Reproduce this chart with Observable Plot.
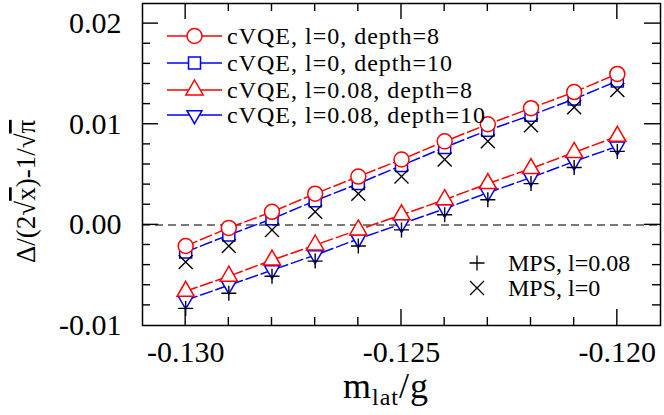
<!DOCTYPE html>
<html>
<head>
<meta charset="utf-8">
<script src="https://cdn.jsdelivr.net/npm/d3@7"></script>
<script src="https://cdn.jsdelivr.net/npm/@observablehq/plot@0.6"></script>
<style>
  html, body { margin: 0; padding: 0; background: white; }
  #chart { width: 664px; height: 415px; }
</style>
</head>
<body>
<div id="chart"></div>
<script>
// ---- data ----
const mLat = [-0.130, -0.129, -0.128, -0.127, -0.126, -0.125, -0.124, -0.123, -0.122, -0.121, -0.120];
const cvqeL0D8   = [-0.0021, -0.0003, 0.0013, 0.0031, 0.0048, 0.0065, 0.0083, 0.0100, 0.0116, 0.0132, 0.0150];
const cvqeL0D10  = [-0.0027, -0.0010, 0.0006, 0.0024, 0.0041, 0.0059, 0.0077, 0.0094, 0.0109, 0.0125, 0.0143];
const cvqeL8D8   = [-0.0066, -0.0051, -0.0035, -0.0020, -0.0005, 0.0010, 0.0025, 0.0041, 0.0056, 0.0072, 0.0088];
const cvqeL8D10  = [-0.0075, -0.0060, -0.0045, -0.0030, -0.0014, 0.0001, 0.0016, 0.0032, 0.0047, 0.0063, 0.0078];
const mpsL8      = [-0.0083, -0.0068, -0.0051, -0.0036, -0.0021, -0.0005, 0.0010, 0.0025, 0.0041, 0.0057, 0.0073];
const mpsL0      = [-0.0037, -0.0021, -0.0005, 0.0013, 0.0031, 0.0048, 0.0065, 0.0083, 0.0099, 0.0117, 0.0134];

const xTicks = [-0.130, -0.125, -0.120];
const yTicks = [-0.01, 0.00, 0.01, 0.02];
const xDomain = [-0.131, -0.119];
const yDomain = [-0.010, 0.022];

const legendTop = ["cVQE, l=0, depth=8", "cVQE, l=0, depth=10", "cVQE, l=0.08, depth=8", "cVQE, l=0.08, depth=10"];
const legendMps = ["MPS, l=0.08", "MPS, l=0"];

// ---- helpers ----
const rows = arr => mLat.map((x, i) => ({x, y: arr[i]}));
const rad = size => Math.sqrt(size / Math.PI);
const symSquare = {draw(c, s) { const r = rad(s); c.rect(-r, -r, 2 * r, 2 * r); }};
const symUp = {draw(c, s) { const r = rad(s), h = 2 * r, w = 2.3 * r;
  c.moveTo(0, -2 * h / 3); c.lineTo(w / 2, h / 3); c.lineTo(-w / 2, h / 3); c.closePath(); }};
const symDown = {draw(c, s) { const r = rad(s), h = 2 * r, w = 2.3 * r;
  c.moveTo(0, 2 * h / 3); c.lineTo(w / 2, -h / 3); c.lineTo(-w / 2, -h / 3); c.closePath(); }};
const symPlus = {draw(c, s) { const r = rad(s); c.moveTo(-r, 0); c.lineTo(r, 0); c.moveTo(0, -r); c.lineTo(0, r); }};
const symTimes = {draw(c, s) { const r = rad(s); c.moveTo(-r, -r); c.lineTo(r, r); c.moveTo(-r, r); c.lineTo(r, -r); }};
const symCircle = {draw(c, s) { const r = rad(s); c.moveTo(r, 0); c.arc(0, 0, r, 0, 2 * Math.PI); }};

const RED = "#ff0000", BLUE = "#0000ff";
const dash = "12,4";
const M = {left: 142, right: 4, top: 3, bottom: 90};
const W = 664, H = 415;
const FONT = "'Liberation Serif', 'Times New Roman', serif";

const plot = Plot.plot({
  width: W, height: H,
  marginLeft: M.left, marginRight: M.right, marginTop: M.top, marginBottom: M.bottom,
  style: {fontFamily: FONT, fontSize: "30px", background: "white", color: "black"},
  x: {domain: xDomain},
  y: {domain: yDomain},
  marks: [
    Plot.ruleY([0], {stroke: "#7a7a7a", strokeWidth: 2, strokeDasharray: "8,5"}),
    Plot.axisX({ticks: xTicks, tickSize: 0, tickPadding: 15, tickFormat: d => d.toFixed(3), fontSize: 30, label: null}),
    Plot.axisY({ticks: yTicks, tickSize: 0, tickPadding: 21, tickFormat: d => d.toFixed(2), fontSize: 30, label: null}),
    Plot.line(rows(cvqeL0D10), {x: "x", y: "y", stroke: BLUE, strokeWidth: 1.5, strokeDasharray: dash}),
    Plot.line(rows(cvqeL0D8), {x: "x", y: "y", stroke: RED, strokeWidth: 1.5, strokeDasharray: dash}),
    Plot.line(rows(cvqeL8D10), {x: "x", y: "y", stroke: BLUE, strokeWidth: 1.5, strokeDasharray: dash}),
    Plot.line(rows(cvqeL8D8), {x: "x", y: "y", stroke: RED, strokeWidth: 1.5, strokeDasharray: dash}),
    Plot.dot(rows(cvqeL0D10), {x: "x", y: "y", symbol: symSquare, r: 6, stroke: BLUE, fill: "white", strokeWidth: 1.5}),
    Plot.dot(rows(cvqeL0D8), {x: "x", y: "y", symbol: symCircle, r: 7.5, stroke: RED, fill: "white", strokeWidth: 1.5}),
    Plot.dot(rows(cvqeL8D10), {x: "x", y: "y", symbol: symDown, r: 6.5, stroke: BLUE, fill: "white", strokeWidth: 1.5}),
    Plot.dot(rows(cvqeL8D8), {x: "x", y: "y", symbol: symUp, r: 7.5, stroke: RED, fill: "white", strokeWidth: 1.5}),
    Plot.dot(rows(mpsL0), {x: "x", y: "y", symbol: symTimes, r: 7, stroke: "black", fill: "none", strokeWidth: 1.4}),
    Plot.dot(rows(mpsL8), {x: "x", y: "y", symbol: symPlus, r: 7.5, stroke: "black", fill: "none", strokeWidth: 1.4}),
    Plot.frame({stroke: "black", strokeWidth: 1.5})
  ]
});
document.getElementById("chart").appendChild(plot);

const svg = d3.select(plot);
// serif tick labels, like the reference
svg.selectAll("text").style("font-family", FONT).style("font-size", "30px").attr("fill", "black");

// ---- inward ticks on all four sides, through Plot's scales ----
const scaleFn = name => {
  const s = plot.scale(name);
  return s.apply ? (v => s.apply(v)) : d3.scaleLinear(s.domain, s.range);
};
const sx = scaleFn("x"), sy = scaleFn("y");
const L = M.left, R = W - M.right, T = M.top, B = H - M.bottom;
const tg = svg.append("g").attr("stroke", "black").attr("stroke-width", 1.4);
const near = (a, b) => Math.abs(a - b) < 1e-9;
const xAll = d3.ticks(xDomain[0], xDomain[1], 12).filter(v => !near(v, xDomain[0]) && !near(v, xDomain[1]));
const yAll = d3.ticks(yDomain[0], yDomain[1], 16).filter(v => !near(v, yDomain[0]) && !near(v, yDomain[1]));
xAll.forEach(v => {
  const major = xTicks.some(t => near(t, v));
  const len = major ? 16 : 8, px = sx(v);
  tg.append("line").attr("x1", px).attr("x2", px).attr("y1", B).attr("y2", B - len);
  tg.append("line").attr("x1", px).attr("x2", px).attr("y1", T).attr("y2", T + len);
});
yAll.forEach(v => {
  const major = yTicks.some(t => near(t, v));
  const len = major ? 16 : 8, py = sy(v);
  tg.append("line").attr("x1", L).attr("x2", L + len).attr("y1", py).attr("y2", py);
  tg.append("line").attr("x1", R).attr("x2", R - len).attr("y1", py).attr("y2", py);
});

// ---- axis titles ----
const yt = svg.append("text")
  .attr("transform", `translate(35,263) rotate(-90)`)
  .attr("text-anchor", "start").attr("fill", "black")
  .style("font-family", FONT).style("font-size", "27px");
yt.append("tspan").text("Δ/(2√");
yt.append("tspan").style("text-decoration", "overline").text("x");
yt.append("tspan").text(")-1/√");
yt.append("tspan").style("text-decoration", "overline").text("π");

const xt = svg.append("text")
  .attr("x", 343).attr("y", 398)
  .attr("text-anchor", "start").attr("fill", "black")
  .style("font-family", FONT).style("font-size", "36px").style("letter-spacing", "1px");
xt.append("tspan").text("m");
xt.append("tspan").attr("dy", 7).style("font-size", "24px").text("lat");
xt.append("tspan").attr("dy", -7).text("/g");

// ---- legends ----
const lgTop = svg.append("g").style("font-family", FONT).style("font-size", "24px").style("letter-spacing", "1px");
const topSyms = [
  {sym: symCircle, r: 7.5, color: RED},
  {sym: symSquare, r: 6, color: BLUE},
  {sym: symUp, r: 7.5, color: RED},
  {sym: symDown, r: 6.5, color: BLUE}
];
const rowY = [36, 63, 90, 115];
legendTop.forEach((label, i) => {
  const s = topSyms[i], y = rowY[i];
  lgTop.append("line").attr("x1", 167).attr("x2", 222).attr("y1", y).attr("y2", y)
    .attr("stroke", s.color).attr("stroke-width", 1.5);
  lgTop.append("path").attr("transform", `translate(194.5,${y})`)
    .attr("d", d3.symbol(s.sym, Math.PI * s.r * s.r)())
    .attr("fill", "white").attr("stroke", s.color).attr("stroke-width", 1.5);
  lgTop.append("text").attr("x", 227).attr("y", y).attr("dy", "0.33em")
    .attr("text-anchor", "start").attr("fill", "black").text(label);
});
const lgMps = svg.append("g").style("font-family", FONT).style("font-size", "24px");
const mpsSyms = [{sym: symPlus, r: 7.5}, {sym: symTimes, r: 7}];
const mpsY = [263, 288];
legendMps.forEach((label, i) => {
  const s = mpsSyms[i], y = mpsY[i];
  lgMps.append("path").attr("transform", `translate(477,${y})`)
    .attr("d", d3.symbol(s.sym, Math.PI * s.r * s.r)())
    .attr("fill", "none").attr("stroke", "black").attr("stroke-width", 1.3);
  lgMps.append("text").attr("x", 508).attr("y", y).attr("dy", "0.33em")
    .attr("text-anchor", "start").attr("fill", "black").text(label);
});
</script>
</body>
</html>
